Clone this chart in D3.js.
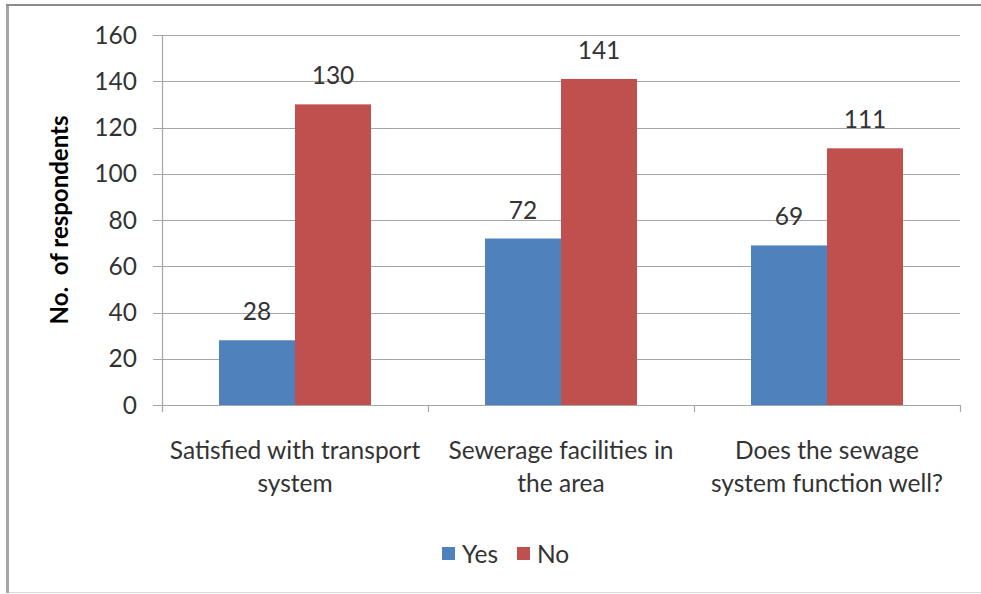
<!DOCTYPE html>
<html><head><meta charset="utf-8">
<script src="https://cdn.jsdelivr.net/npm/d3@7"></script>
<style>body{margin:0;background:#fff}svg{display:block;font-family:Lato,"Open Sans",sans-serif}</style>
</head><body>
<svg id="c" width="981" height="594"></svg>
<script>
const categories = [["Satisfied with transport","system"],["Sewerage facilities in","the area"],["Does the sewage","system function well?"]];
const seriesNames = ["Yes","No"];
const yesValues = [28,72,69];
const noValues = [130,141,111];
const yTicks = [0,20,40,60,80,100,120,140,160];
const colors = ["#4F81BD","#C0504D"];

(function(){
const svg = d3.select("#c");
const fs = 24.5, txt = "#333";
// frame
svg.append("rect").attr("x",7.5).attr("y",4.5).attr("width",990).attr("height",588)
  .attr("fill","#fff").attr("stroke","#d9d9d9").attr("stroke-width",1);
svg.append("line").attr("x1",7.5).attr("x2",7.5).attr("y1",4).attr("y2",593).attr("stroke","#a6a6a6").attr("stroke-width",3);
svg.append("line").attr("x1",6).attr("x2",981).attr("y1",5).attr("y2",5).attr("stroke","#8c8c8c").attr("stroke-width",2);

const pL=162, pR=960, pT=35, pB=405;
const x = d3.scaleBand().domain(d3.range(categories.length)).range([pL,pR]);
const y = d3.scaleLinear().domain([0,160]).range([pB,pT]);
const xs = d3.scaleBand().domain(d3.range(2)).range([0,152]);
const groupOffset = (x.bandwidth()-152)/2;

// gridlines
svg.append("g").selectAll("line").data(yTicks).join("line")
  .attr("x1",153).attr("x2",pR).attr("y1",d=>Math.round(y(d))+0.5).attr("y2",d=>Math.round(y(d))+0.5)
  .attr("stroke","#a6a6a6").attr("stroke-width",1.2);
// y axis line
svg.append("line").attr("x1",pL+0.5).attr("x2",pL+0.5).attr("y1",pT).attr("y2",pB).attr("stroke","#a6a6a6").attr("stroke-width",1.2);
// x ticks
const xt = d3.range(categories.length+1).map(i=> i<categories.length ? x(i) : pR);
svg.append("g").selectAll("line").data(xt).join("line")
  .attr("x1",d=>Math.round(d)+0.5).attr("x2",d=>Math.round(d)+0.5).attr("y1",pB).attr("y2",pB+7)
  .attr("stroke","#a6a6a6").attr("stroke-width",1.2);
// y tick labels
svg.append("g").selectAll("text").data(yTicks).join("text")
  .attr("x",137).attr("y",d=>y(d)).attr("dy","0.35em").attr("text-anchor","end")
  .attr("font-size",fs).attr("fill",txt).text(d=>d);
// y title
svg.append("text").attr("transform","translate(68,220) rotate(-90)").attr("text-anchor","middle")
  .attr("font-size",24).attr("font-weight","bold").attr("fill","#000").attr("xml:space","preserve").text("No.  of respondents");

const series = [yesValues,noValues];
series.forEach((vals,si)=>{
  const g = svg.append("g");
  g.selectAll("rect").data(vals).join("rect")
    .attr("x",(d,i)=>x(i)+groupOffset+xs(si)).attr("width",xs.bandwidth())
    .attr("y",d=>y(d)).attr("height",d=>pB-y(d)).attr("fill",colors[si]);
  g.selectAll("text").data(vals).join("text")
    .attr("x",(d,i)=>x(i)+groupOffset+xs(si)+xs.bandwidth()/2).attr("y",d=>y(d)-20)
    .attr("text-anchor","middle").attr("font-size",fs).attr("fill",txt).text(d=>d);
});

// category labels
categories.forEach((lines,i)=>{
  const t = svg.append("text").attr("x",x(i)+x.bandwidth()/2).attr("text-anchor","middle")
    .attr("font-size",fs).attr("fill",txt);
  lines.forEach((l,j)=>t.append("tspan").attr("x",x(i)+x.bandwidth()/2).attr("y",459+j*33).text(l));
});

// legend
const lg = svg.append("g");
const lx = [442,517];
seriesNames.forEach((n,i)=>{
  lg.append("rect").attr("x",lx[i]).attr("y",547).attr("width",13).attr("height",13).attr("fill",colors[i]);
  lg.append("text").attr("x",lx[i]+20).attr("y",554).attr("dy","0.35em").attr("font-size",fs).attr("fill",txt).text(n);
});
})();
</script>
</body></html>
